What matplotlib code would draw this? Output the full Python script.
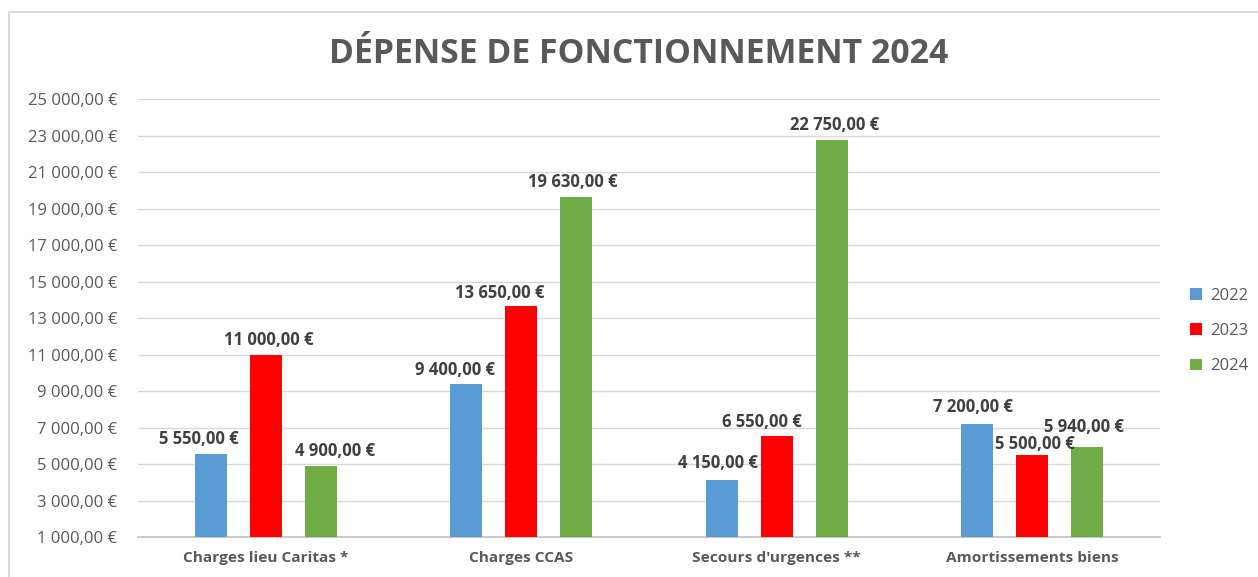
import numpy as np
import matplotlib.pyplot as plt
from matplotlib.patches import Rectangle

plt.rcParams['font.family'] = ['Open Sans', 'DejaVu Sans']

categories = ["Charges lieu Caritas *", "Charges CCAS", "Secours d'urgences **", "Amortissements biens"]
years = ["2022", "2023", "2024"]
v2022 = [5550, 9400, 4150, 7200]
v2023 = [11000, 13650, 6550, 5500]
v2024 = [4900, 19630, 22750, 5940]
colors = ["#5b9bd5", "#ff0000", "#70ad47"]
yticks = list(range(1000, 25001, 2000))


def euro(v):
    s = f"{v:,.2f}".replace(",", " ").replace(".", ",")
    return s + " €"


fig = plt.figure(figsize=(12.58, 5.77), dpi=100)
ax = fig.add_axes([0.1097, 0.0693, 0.8124, 0.7591])

x = np.arange(len(categories))
step = 0.215
width = 0.125
# hand-placed data labels in the original: (series, category) -> (dx, dy) in px
nudge = {(0, 0): (-12, 0), (1, 0): (3, 0), (2, 0): (14, 0),
         (0, 1): (-11, -1), (1, 1): (-22, -2), (2, 1): (-3, 0),
         (0, 2): (-4, 2), (1, 2): (-15, -1), (2, 2): (3, 0),
         (0, 3): (-4, 2), (1, 3): (3, -4), (2, 3): (-3, 5)}
for i, (vals, col, yr) in enumerate(zip([v2022, v2023, v2024], colors, years)):
    pos = x + (i - 1) * step
    bars = ax.bar(pos, vals, width=width, color=col, label=yr, zorder=3)
    for j, (b, v) in enumerate(zip(bars, vals)):
        dx, dy = nudge.get((i, j), (0, 0))
        ax.annotate(euro(v), (b.get_x() + b.get_width() / 2, v),
                    xytext=(dx * 0.72, (15 + dy) * 0.72),
                    textcoords="offset points", ha="center", va="center",
                    fontsize=12, fontweight="bold", color="#404040", zorder=4)

ax.set_xlim(-0.5, 3.5)
ax.set_ylim(1000, 25000)
ax.set_yticks(yticks)
ax.set_yticklabels([euro(t) for t in yticks], fontsize=12, color="#595959")
ax.set_xticks(x)
ax.set_xticklabels(categories, fontsize=11.1, fontweight="bold", color="#595959")
ax.tick_params(axis="both", length=0)
ax.tick_params(axis="y", pad=15)
ax.tick_params(axis="x", pad=10)
ax.grid(axis="y", color="#d9d9d9", linewidth=1, zorder=0)
for s in ["top", "right", "left"]:
    ax.spines[s].set_visible(False)
ax.spines["bottom"].set_color("#bfbfbf")
ax.spines["bottom"].set_linewidth(1.2)

fig.text(0.508, 0.907, "DÉPENSE DE FONCTIONNEMENT 2024", ha="center", va="center",
         fontsize=24.3, fontweight="bold", color="#595959")

leg = ax.legend(loc="center left", bbox_to_anchor=(1.015, 0.47), frameon=False,
                fontsize=12, handlelength=0.7, handleheight=0.7, handletextpad=0.5,
                labelspacing=1.15, labelcolor="#595959")

fig.patches.append(Rectangle((9 / 1258, -0.1), 1.2, (577 - 12) / 577 + 0.1,
                             transform=fig.transFigure, fill=False,
                             edgecolor="#d9d9d9", linewidth=1.5))

fig.savefig("out.png", dpi=100)
